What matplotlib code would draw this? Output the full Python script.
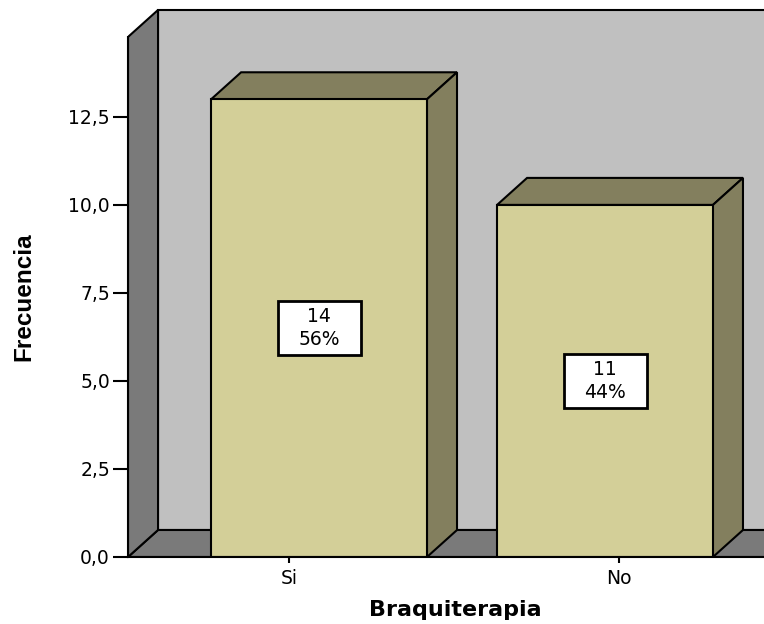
import numpy as np
import matplotlib
matplotlib.use("Agg")
import matplotlib.pyplot as plt
from matplotlib.patches import Polygon, Rectangle
from matplotlib.transforms import ScaledTranslation
from matplotlib.ticker import FuncFormatter

# Datos
categorias = ["Si", "No"]
altura_barras = [13, 10]          # altura dibujada de las barras
etiquetas_n = [14, 11]            # texto de las etiquetas
etiquetas_pct = ["56%", "44%"]
y_ticks = [0, 2.5, 5, 7.5, 10, 12.5]

# Estilo
c_pared = "#c0c0c0"
c_suelo = "#7a7a7a"
c_frente = "#d3cf98"
c_lado = "#837f5e"
lw = 1.5
ancho = 0.755
dx, dy = 0.105, 0.767     # profundidad 3D en unidades de datos
x_min, x_max = -0.668, 1.556
y_max = 15.82
alto_pared = 14.77

fig = plt.figure(figsize=(7.64, 6.24), dpi=100)
ax = fig.add_axes([128 / 764, 67 / 624, 1 - 128 / 764, 557 / 624])
ax.set_xlim(x_min, x_max)
ax.set_ylim(0, y_max)
ax.set_facecolor("none")

# paredes y suelo
ax.add_patch(Rectangle((x_min + dx, dy), 5, alto_pared, facecolor=c_pared,
                       edgecolor="black", lw=lw, zorder=0))
ax.add_patch(Polygon([(x_min, 0), (x_min + 5, 0), (x_min + 5 + dx, dy), (x_min + dx, dy)],
                     closed=True, facecolor=c_suelo, edgecolor="black", lw=lw, zorder=0.5))
ax.add_patch(Polygon([(x_min, 0), (x_min + dx, dy), (x_min + dx, alto_pared + dy), (x_min, alto_pared)],
                     closed=True, facecolor=c_suelo, edgecolor="black", lw=lw, zorder=0.5))

# barras 3D
xs = np.arange(len(categorias))
ax.bar(xs, altura_barras, width=ancho, color=c_frente, edgecolor="black", lw=lw, zorder=2)
for x, h in zip(xs, altura_barras):
    izq, der = x - ancho / 2, x + ancho / 2
    ax.add_patch(Polygon([(izq, h), (der, h), (der + dx, h + dy), (izq + dx, h + dy)],
                         closed=True, facecolor=c_lado, edgecolor="black", lw=lw, zorder=1.8))
    ax.add_patch(Polygon([(der, 0), (der + dx, dy), (der + dx, h + dy), (der, h)],
                         closed=True, facecolor=c_lado, edgecolor="black", lw=lw, zorder=1.8))

# etiquetas en las barras
for x, h, n, p in zip(xs, altura_barras, etiquetas_n, etiquetas_pct):
    caja = Rectangle((-0.415, -0.27), 0.83, 0.54, facecolor="white", edgecolor="black", lw=2,
                     transform=fig.dpi_scale_trans + ScaledTranslation(x, h / 2, ax.transData),
                     zorder=3)
    ax.add_patch(caja)
    ax.text(x, h / 2, f"{n}\n{p}", ha="center", va="center", fontsize=13.5,
            linespacing=1.3, zorder=4)

# ejes
for s in ["top", "right"]:
    ax.spines[s].set_visible(False)
ax.spines["left"].set_bounds(0, alto_pared)
ax.spines["left"].set_linewidth(lw)
ax.spines["bottom"].set_linewidth(lw)
ax.spines["left"].set_zorder(5)
ax.spines["bottom"].set_zorder(5)

ax.set_yticks(y_ticks)
ax.yaxis.set_major_formatter(FuncFormatter(lambda v, _: f"{v:.1f}".replace(".", ",")))
ax.tick_params(axis="y", length=11, width=1.5, pad=2, labelsize=13.5, colors="black")
ax.set_xticks([-0.105, 1.049])
ax.set_xticklabels(categorias)
ax.tick_params(axis="x", length=4.5, width=1.5, pad=4, labelsize=13.5)

fig.text(455 / 764, 1 - 610 / 624, "Braquiterapia", ha="center", va="center",
         fontsize=16, fontweight="bold")
fig.text(24 / 764, 1 - 297 / 624, "Frecuencia", ha="center", va="center", rotation=90,
         fontsize=17.5, fontweight="bold", family="Liberation Sans")

fig.savefig("out.png", dpi=100)
